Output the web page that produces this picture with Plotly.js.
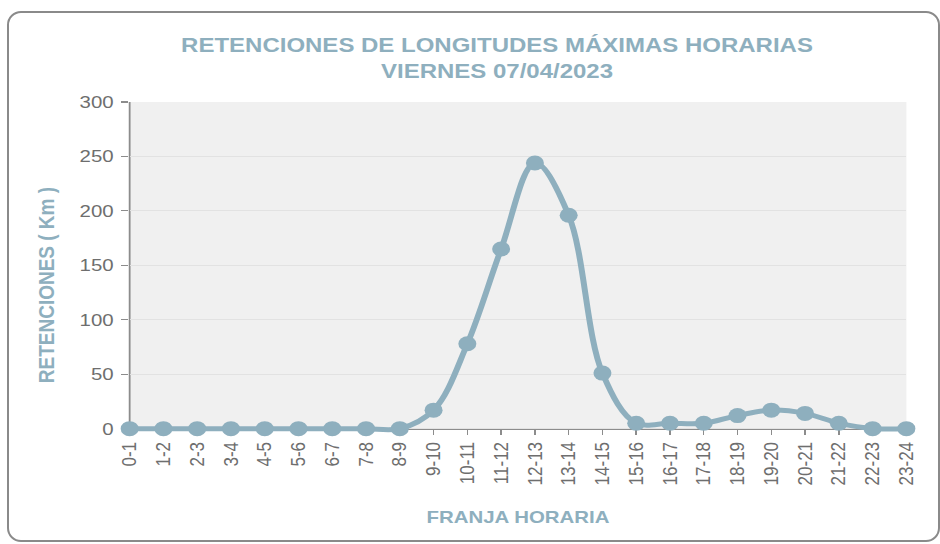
<!DOCTYPE html>
<html>
<head>
<meta charset="utf-8">
<script src="https://cdn.plot.ly/plotly-3.0.1.min.js"></script>
<style>
  html, body { margin: 0; padding: 0; background: #ffffff; }
  #wrap { position: relative; width: 940px; height: 544px; overflow: hidden; }
  #frame { position: absolute; left: 7px; top: 11px; width: 929px; height: 527px;
           border: 2px solid #8a8a8a; border-radius: 14px; pointer-events: none; }
  #chart { position: absolute; left: 0; top: 0; width: 783px; height: 544px;
           transform: scaleX(1.2005); transform-origin: 0 0; }
</style>
</head>
<body>
<div id="wrap">
  <div id="chart"></div>
  <div id="frame"></div>
</div>
<script>
// ---- data ----
const franjas = ['0-1','1-2','2-3','3-4','4-5','5-6','6-7','7-8','8-9','9-10','10-11','11-12',
                 '12-13','13-14','14-15','15-16','16-17','17-18','18-19','19-20','20-21','21-22','22-23','23-24'];
const retenciones = [0,0,0,0,0,0,0,0,0,17,78,165,244,196,51,5,5,5,12,17,14,5,0,0];
const yTicks = [0,50,100,150,200,250,300];

const chartTitle = 'RETENCIONES DE LONGITUDES MÁXIMAS HORARIAS<br>VIERNES 07/04/2023';
const xTitle = 'FRANJA HORARIA';
const yTitle = 'RETENCIONES ( Km )';

const accent = '#8eafbe';
const axisGray = '#8c8c8c';
const font = '"Liberation Sans", Arial, sans-serif';

// small headroom below zero so the thick zero-level line is not clipped
const yMin = -4, yMax = 300;

const trace = {
  type: 'scatter',
  mode: 'lines+markers',
  x: franjas,
  y: retenciones,
  line: { shape: 'spline', smoothing: 1, color: accent, width: 5 },
  marker: { size: 15, color: accent },
  cliponaxis: false,
  hoverinfo: 'x+y'
};

const plotTop = 101.5, zeroPx = 429;
const pxPerUnit = (zeroPx - plotTop) / yMax;
const plotBottom = zeroPx - yMin * pxPerUnit;

const layout = {
  width: 783, height: 544,
  margin: { l: 108.3, r: 27.6, t: plotTop, b: 544 - plotBottom },
  paper_bgcolor: 'rgba(0,0,0,0)',
  plot_bgcolor: '#f0f0f0',
  showlegend: false,
  font: { family: font, color: '#6e6e6e' },
  title: {
    text: chartTitle,
    font: { family: font, size: 20, color: accent, weight: 'bold' },
    xref: 'container', x: 414 / 783, xanchor: 'center',
    yref: 'container', y: 1 - 52 / 544, yanchor: 'top'
  },
  xaxis: {
    type: 'category',
    range: [0, franjas.length - 1],
    anchor: 'free',
    position: -yMin / (yMax - yMin),
    layer: 'below traces',
    tickangle: -90,
    tickfont: { family: font, size: 17, color: '#6e6e6e' },
    ticks: 'outside', ticklen: 5, tickwidth: 1.2, tickcolor: axisGray,
    showline: true, linecolor: axisGray, linewidth: 1.5,
    showgrid: false, zeroline: false, fixedrange: true,
    title: { text: xTitle, font: { family: font, size: 17, color: accent, weight: 'bold' }, standoff: 26 }
  },
  yaxis: {
    range: [yMin, yMax],
    tickvals: yTicks,
    layer: 'below traces',
    tickfont: { family: font, size: 17, color: '#6e6e6e' },
    ticks: 'outside', ticklen: 6, tickwidth: 1.2, tickcolor: axisGray,
    ticklabelstandoff: 3,
    showline: false,
    showgrid: true, gridcolor: '#e2e2e2', gridwidth: 1,
    zeroline: false, fixedrange: true
  },
  shapes: [
    // white strip hiding the plot background under the zero line
    { type: 'rect', xref: 'paper', yref: 'y', x0: -0.01, x1: 1.01, y0: yMin, y1: 0,
      fillcolor: '#ffffff', line: { width: 0 }, layer: 'below' },
    // vertical axis line from 0 to the top of the scale
    { type: 'line', xref: 'paper', yref: 'y', x0: 0, x1: 0, y0: 0, y1: yMax,
      line: { color: axisGray, width: 1.5 }, layer: 'below' }
  ],
  annotations: [{
    text: yTitle,
    xref: 'paper', yref: 'paper',
    x: (39 - 108.3) / (783 - 108.3 - 27.6), xanchor: 'center',
    y: (plotBottom - 285.5) / (plotBottom - plotTop), yanchor: 'middle',
    textangle: -90, showarrow: false,
    font: { family: font, size: 19, color: accent, weight: 'bold' }
  }]
};

Plotly.newPlot('chart', [trace], layout, { displayModeBar: false, staticPlot: true });
</script>
</body>
</html>
